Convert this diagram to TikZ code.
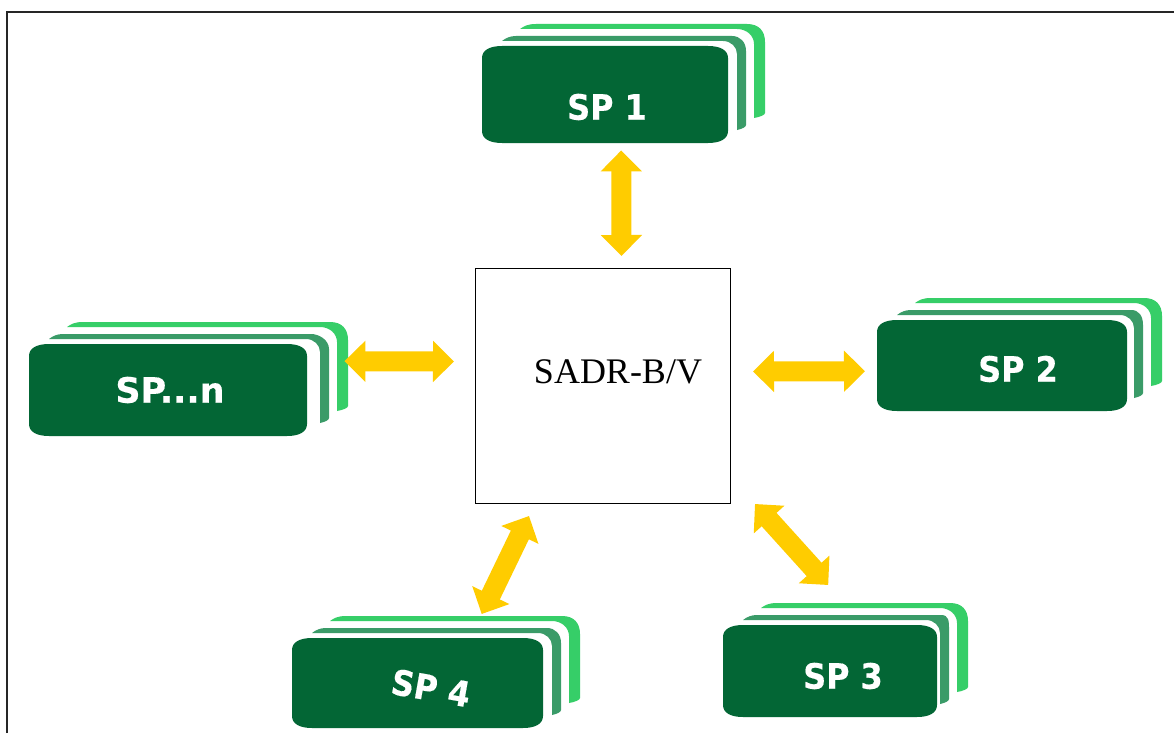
\documentclass[tikz,border=0pt]{standalone}
\usepackage{fontspec}
\setmainfont{Liberation Serif}
\newfontfamily\cardfont[UprightFont=* Bold,FakeBold=0.4]{DejaVu Sans}
\usetikzlibrary{arrows.meta,calc}
\definecolor{cardfront}{HTML}{036635}
\definecolor{cardmid}{HTML}{3A9B68}
\definecolor{cardback}{HTML}{36CE68}
\definecolor{arrowgold}{HTML}{FFCC00}
\tikzset{
  x=1pt,y=-1pt,
  cardbox/.style={inner sep=0pt,anchor=north west},
  cardtext/.style={text=white,font=\cardfont\fontsize{35}{35}\selectfont,inner sep=0pt},
  hub/.style={draw=black,line width=1pt,fill=white,inner sep=0pt,anchor=north west},
  blockarrow/.style={draw=arrowgold,line width=#1,{Triangle[length=21pt,width=40pt]}-{Triangle[length=21pt,width=40pt]}},
  blockarrow/.default=20pt
}
% #1 name, #2 x0, #3 y0, #4 width, #5 height, #6 right offset of back card
\newcommand{\stackcard}[6]{%
  \begin{scope}[shift={(#2,#3)}]
    \fill[cardback] (38,-17) .. controls (42,-20) and (46,-22) .. (54,-22)
      -- ({#4+#6-18},-22) .. controls ({#4+#6-6},-22) and ({#4+#6},-15) .. ({#4+#6},-4)
      -- ({#4+#6},{#5-30}) .. controls ({#4+#6},{#5-28}) and ({#4+#6-5},{#5-26}) .. ({#4+#6-11},{#5-25})
      -- ({#4+#6-11},-2) .. controls ({#4+#6-11},-10) and ({#4+#6-18},-17) .. ({#4+#6-28},-17) -- cycle;
    \fill[cardmid] (20,-5) .. controls (24,-8) and (28,-10) .. (34,-10)
      -- ({#4+4},-10) .. controls ({#4+12},-10) and ({#4+#6-19},-4) .. ({#4+#6-19},5)
      -- ({#4+#6-19},{#5-18}) .. controls ({#4+#6-19},{#5-16}) and ({#4+#6-23},{#5-14}) .. ({#4+#6-28},{#5-13})
      -- ({#4+#6-28},8) .. controls ({#4+#6-28},1) and ({#4+#6-34},-5) .. ({#4+#6-42},-5) -- cycle;
    \fill[cardfront] (20,0) -- ({#4-20},0)
      .. controls ({#4-8},0) and (#4,4) .. (#4,12)
      -- (#4,{#5-12}) .. controls (#4,{#5-4}) and ({#4-8},#5) .. ({#4-20},#5)
      -- (20,#5) .. controls (8,#5) and (0,{#5-4}) .. (0,{#5-12})
      -- (0,12) .. controls (0,4) and (8,0) .. (20,0) -- cycle;
  \end{scope}
  \node[cardbox,minimum width=#4pt,minimum height=#5pt] (#1) at (#2,#3) {};
}
\newcommand{\squeezed}[1]{\scalebox{0.91}[1]{#1}}
\begin{document}
\begin{tikzpicture}
\useasboundingbox (0,0) rectangle (1174,733);
\fill[white] (0,0) rectangle (1174,733);
\coordinate (fa) at (7,733);
\coordinate (fb) at (7,12);
\coordinate (fc) at (1174,12);
\draw[line width=1.2pt,black!85] (fa) -- (fb) -- (fc);

\stackcard{sp1}{482}{46}{246}{97}{37}
\stackcard{sp2}{877}{320}{250}{91}{35}
\stackcard{sp3}{723}{625}{214}{92}{31}
\stackcard{sp4}{292}{638}{251}{90}{37}
\stackcard{spn}{29}{344}{278}{92}{41}

\node[hub,minimum width=255pt,minimum height=235pt] (hub) at (475,268) {};
\node[inner sep=0pt,font=\fontsize{36}{36}\selectfont] (hubtext) at (618,372) {SADR-B/V};

\node[cardtext] (t1) at (607,107) {\squeezed{SP 1}};
\node[cardtext] (t2) at (1018,369) {\squeezed{SP 2}};
\node[cardtext] (t3) at (843,676) {\squeezed{SP 3}};
\node[cardtext,rotate=-10] (t4) at (431,688) {\squeezed{SP 4}};
\node[cardtext] (tn) at (170,390) {SP...n};

\draw[blockarrow] ($(sp1.south)+(16,7)$) -- ($(hub.north)+(18.5,-12)$);
\draw[blockarrow] ($(spn.east)+(37,-29)$) -- ($(hub.west)+(-21,-24.5)$);
\draw[blockarrow] ($(hub.east)+(22,-14.5)$) -- ($(sp2.west)+(-12,5.5)$);
\draw[blockarrow] ($(hub.south)+(152,0)$) -- ($(sp3.north)+(-2,-40)$);
\draw[blockarrow] ($(hub.south)+(-74,12)$) -- ($(sp4.north)+(64,-24)$);
\end{tikzpicture}
\end{document}
